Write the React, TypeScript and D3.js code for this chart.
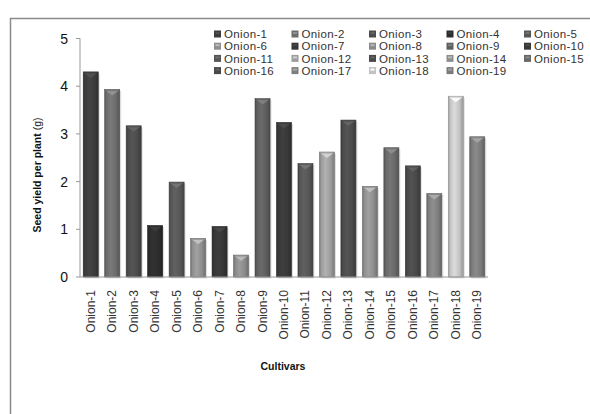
import React from "react";
import * as d3 from "d3";

const categories = [
  "Onion-1", "Onion-2", "Onion-3", "Onion-4", "Onion-5", "Onion-6", "Onion-7",
  "Onion-8", "Onion-9", "Onion-10", "Onion-11", "Onion-12", "Onion-13", "Onion-14",
  "Onion-15", "Onion-16", "Onion-17", "Onion-18", "Onion-19",
];
const values = [
  4.3, 3.93, 3.17, 1.08, 1.99, 0.81, 1.06, 0.46, 3.74, 3.24,
  2.38, 2.62, 3.29, 1.9, 2.71, 2.33, 1.75, 3.79, 2.94,
];
const colors = [
  "#3c3c3c", "#6c6c6c", "#4b4b4b", "#2c2c2c", "#565656", "#8e8e8e", "#363636",
  "#8a8a8a", "#5e5e5e", "#383838", "#555555", "#9c9c9c", "#4a4a4a", "#8e8e8e",
  "#686868", "#484848", "#7e7e7e", "#c2c2c2", "#7a7a7a",
];
const yTicks = [0, 1, 2, 3, 4, 5];
const yTitle = "Seed yield per plant";
const yUnit = "(g)";
const xTitle = "Cultivars";

export default function App() {
  const W = 590, H = 414;
  const x0 = 80, x1 = 488, yTop = 38.5, yBase = 277;
  const x = d3.scaleBand<string>().domain(categories).range([x0, x1]).paddingInner(0.3).paddingOuter(0.15);
  const y = d3.scaleLinear().domain([0, 5]).range([yBase, yTop]);
  const bw = x.bandwidth();

  const legendCols = 5;
  const legX = 214, legColW = 77.5, legY = 34, legRowH = 12.2;

  return (
    <svg width={W} height={H} style={{ position: "absolute", left: 0, top: 0, background: "#fff" }}
      fontFamily="'Liberation Sans', Arial, sans-serif">
      <defs>
        {colors.map((c, i) => {
          const base = d3.color(c)!;
          const dark = base.darker(0.7).formatHex();
          const light = base.brighter(0.35).formatHex();
          return (
            <linearGradient key={i} id={`g${i}`} x1="0" x2="1" y1="0" y2="0">
              <stop offset="0" stopColor={dark} />
              <stop offset="0.12" stopColor={c} />
              <stop offset="0.4" stopColor={light} />
              <stop offset="0.75" stopColor={c} />
              <stop offset="1" stopColor={dark} />
            </linearGradient>
          );
        })}
      </defs>
      <rect x={10.5} y={18.5} width={640} height={440} fill="#fff" stroke="#8a8a8a" strokeWidth={1.5} />

      {/* y axis */}
      <line x1={x0} x2={x0} y1={yTop} y2={yBase} stroke="#999" strokeWidth={1} />
      {yTicks.map((t) => (
        <g key={t}>
          <line x1={x0 - 4} x2={x0} y1={y(t)} y2={y(t)} stroke="#999" />
          <text x={x0 - 12} y={y(t)} dy="0.36em" textAnchor="end" fontSize={14} fill="#111">{t}</text>
        </g>
      ))}

      {/* bars */}
      {categories.map((c, i) => {
        const bx = x(c)!;
        const top = y(values[i]);
        const cap = d3.color(colors[i])!.brighter(0.9).formatHex();
        const capDark = d3.color(colors[i])!.brighter(0.2).formatHex();
        return (
          <g key={c}>
            <rect x={bx + 1.5} y={top + 1.5} width={bw} height={yBase - top} fill="#000" opacity={0.12} />
            <rect x={bx} y={top} width={bw} height={yBase - top} fill={`url(#g${i})`}
              stroke={d3.color(colors[i])!.darker(0.8).formatHex()} strokeWidth={0.6} />
            <polygon points={`${bx + 1},${top + 1} ${bx + bw - 1},${top + 1} ${bx + bw / 2},${top + 6}`}
              fill={cap} opacity={0.9} />
            <line x1={bx + 1} x2={bx + bw - 1} y1={top + 1} y2={top + 1} stroke={capDark} strokeWidth={1} />
          </g>
        );
      })}

      {/* x axis */}
      <line x1={x0} x2={x1} y1={yBase} y2={yBase} stroke="#999" strokeWidth={1.2} />
      {categories.map((c) => {
        const cx = x(c)! + bw / 2;
        return (
          <text key={c} transform={`translate(${cx + 4},290) rotate(-90)`} textAnchor="end"
            fontSize={12} fill="#333">{c}</text>
        );
      })}

      <text x={283} y={370} textAnchor="middle" fontSize={10.5} fontWeight="bold" fill="#111">{xTitle}</text>
      <text transform={`translate(41,175) rotate(-90)`} textAnchor="middle" fontSize={10.5} fill="#111">
        <tspan fontWeight="bold">{yTitle}</tspan>
        <tspan> {yUnit}</tspan>
      </text>

      {/* legend */}
      {categories.map((c, i) => {
        const col = i % legendCols;
        const row = Math.floor(i / legendCols);
        const lx = legX + col * legColW;
        const ly = legY + row * legRowH;
        return (
          <g key={c}>
            <rect x={lx} y={ly - 3.5} width={7} height={7} fill={colors[i]} />
            <rect x={lx + 1.5} y={ly - 2} width={4} height={2} fill={d3.color(colors[i])!.brighter(0.8).formatHex()} />
            <text x={lx + 10} y={ly} dy="0.36em" fontSize={11.5} letterSpacing={0.35} fill="#333">{c}</text>
          </g>
        );
      })}
    </svg>
  );
}
